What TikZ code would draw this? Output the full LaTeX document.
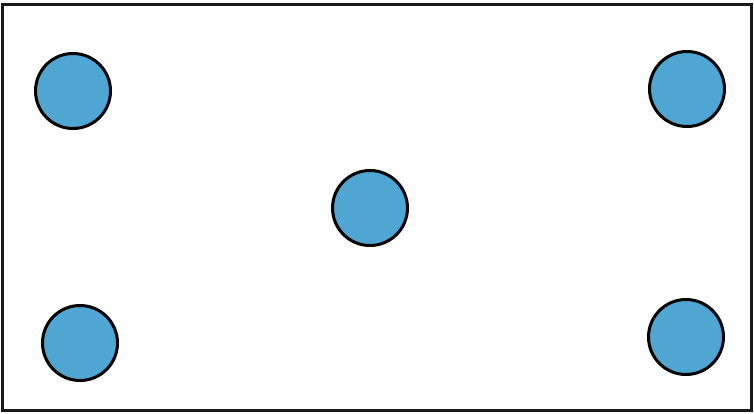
\documentclass[tikz,border=0pt]{standalone}
\usepackage{tikz}
\definecolor{dotblue}{HTML}{4FA6D3}

\begin{document}
\begin{tikzpicture}[x=1pt, y=-1pt]
\tikzset{
  frame/.style={draw=black!90, line width=3pt},
  dot/.style  ={circle, draw=black, line width=3pt, fill=dotblue,
                minimum size=75pt, inner sep=0pt}
}
\useasboundingbox (0,0) rectangle (754,413);
\draw[frame] (2.5,4.5) rectangle (751.5,410.5);
\node (tl)[dot] at (73,91) {};
\node (tr)[dot] at (687,89) {};
\node (mid)[dot] at (370,208) {};
\node (bl)[dot] at (80,343) {};
\node (br)[dot] at (686,337) {};
\end{tikzpicture}
\end{document}
